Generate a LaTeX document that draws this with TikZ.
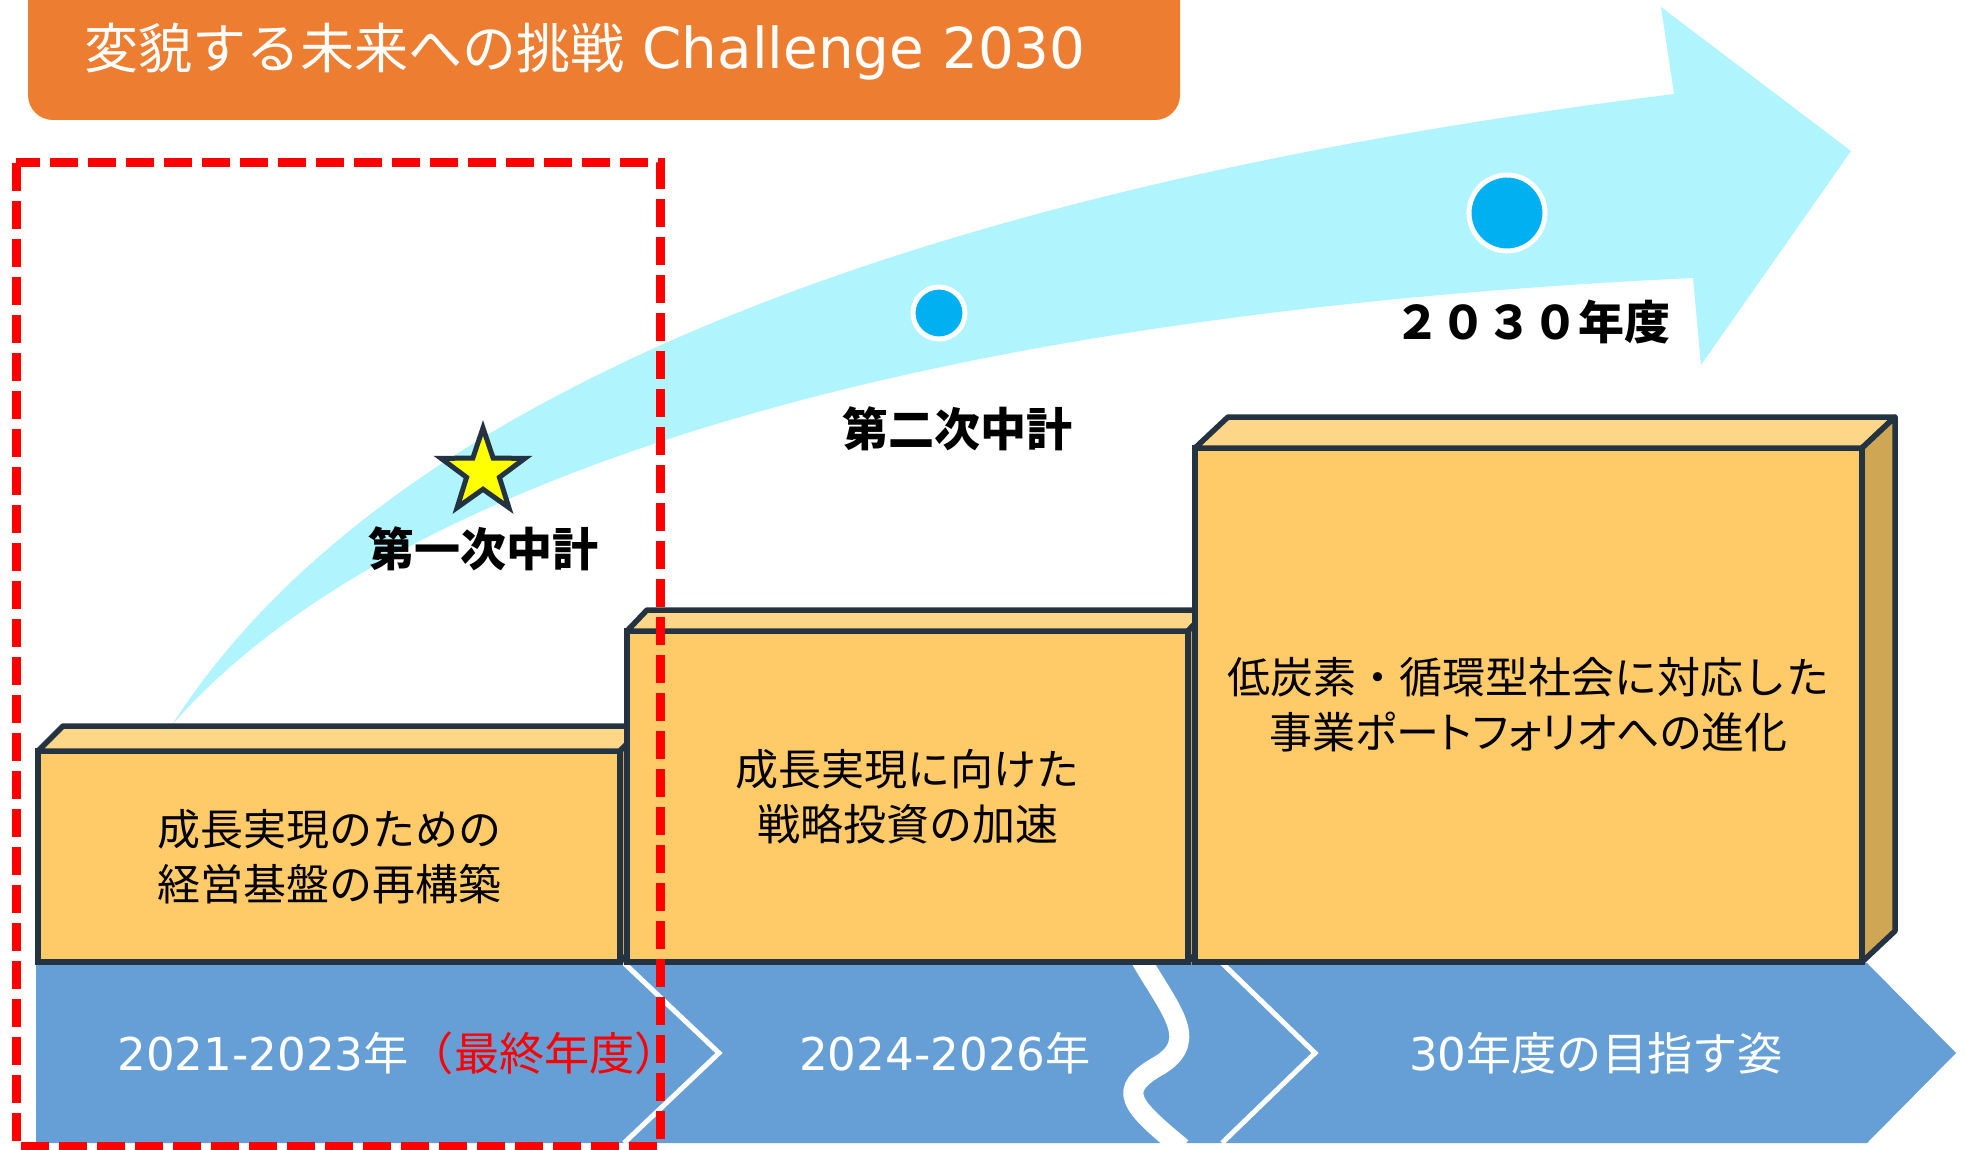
\documentclass[tikz,border=0pt]{standalone}
\usepackage{fontspec}
\usetikzlibrary{shapes.geometric}
\newfontfamily\jp{Noto Sans CJK JP}
\newfontfamily\jpp{Noto Sans CJK JP}[RawFeature=+palt]
\newfontfamily\lat{DejaVu Sans}
\definecolor{titleorange}{HTML}{ED7D31}
\definecolor{arrowcyan}{HTML}{B0F4FD}
\definecolor{boxfront}{HTML}{FFCB69}
\definecolor{boxtop}{HTML}{FED687}
\definecolor{boxside}{HTML}{CFA653}
\definecolor{boxline}{HTML}{243342}
\definecolor{bandblue}{HTML}{659FD5}
\definecolor{dotblue}{HTML}{00B0F0}
\definecolor{starfill}{HTML}{FFFF00}
\definecolor{markred}{HTML}{FF0000}
\begin{document}
\begin{tikzpicture}[x=0.5pt,y=-0.5pt,
  front/.style={draw=boxline, line width=2.75pt, fill=boxfront, rectangle, inner sep=0pt, outer sep=0pt, align=center, font=\jp\fontsize{21.5pt}{27.5pt}\selectfont, text=black},
  topface/.style={draw=boxline, line width=2.75pt, fill=boxtop, line join=round},
  sideface/.style={draw=boxline, line width=2.75pt, fill=boxside, line join=round},
  bandtext/.style={text=white, font=\fontsize{22.6pt}{27pt}\selectfont, inner sep=0pt},
  milestone/.style={font=\jp\bfseries\fontsize{23pt}{27pt}\selectfont, text=black, inner sep=0pt},
  dot/.style={circle, fill=dotblue, draw=white, line width=2.5pt, inner sep=0pt, outer sep=0pt},
  sepline/.style={draw=white, line width=2.5pt, line join=miter},
]
\useasboundingbox (0,0) rectangle (1966,1150);
\fill[white] (0,0) rectangle (1966,1150);

% title banner
\fill[titleorange, rounded corners=12.5pt] (28,-40) rectangle (1180,120);
\node[anchor=west, text=white, inner sep=0pt, font=\fontsize{27pt}{32pt}\selectfont] (title) at (84,52) {{\jp 変貌する未来への挑戦}{\lat\fontsize{28.2pt}{32pt}\selectfont\ Challenge 2030}};

% big curved arrow
\fill[arrowcyan] (172,725) .. controls (380,400) and (900,190) .. (1674,94)
  -- (1661,7) -- (1851,151) -- (1701,365) -- (1693,278)
  .. controls (800,320) and (350,520) .. (172,725) -- cycle;

% milestones
\node[dot, minimum size=26pt] (d1) at (939,313) {};
\node[dot, minimum size=38pt] (d2) at (1507,213) {};
\node[star, star points=5, star point ratio=2.55, minimum size=44pt, inner sep=0pt, outer sep=0pt, fill=starfill, draw=boxline, line width=2.5pt] (st) at (483,472) {};
\node[milestone] (m1) at (483,549) {第一次中計};
\node[milestone] (m2) at (957,429) {第二次中計};
\node[milestone] (m3) at (1532,322) {２０３０年度};

% timeline band
\fill[bandblue] (36,963) -- (1867,963) -- (1956,1053) -- (1867,1143) -- (36,1143) -- cycle;
\draw[sepline] (624,963) -- (719,1053) -- (624,1143);
\draw[sepline] (1222,963) -- (1315,1053) -- (1222,1143);
\draw[white, line width=10pt] (1140,958) .. controls (1170,1010) and (1200,1040) .. (1160,1065)
  .. controls (1115,1090) and (1130,1105) .. (1182,1148);
\node[bandtext, anchor=west] (t1) at (117,1053) {{\lat 2021-2023}{\jp 年}{\jp\color{markred}（最終年度）}};
\node[bandtext] (t2) at (945,1053) {{\lat 2024-2026}{\jp 年}};
\node[bandtext] (t3) at (1596,1053) {{\lat 30}{\jp 年度の目指す姿}};

% box 1
\node[front, minimum width=291pt, minimum height=105.5pt] (b1) at (329,856.5) {成長実現のための\\経営基盤の再構築};
\path[topface] (b1.north west) -- ++(25,-25) -- ([shift={(25,-25)}]b1.north east) -- (b1.north east) -- cycle;
\path[sideface] (b1.north east) -- ++(25,-25) -- ([shift={(25,-25)}]b1.south east) -- (b1.south east) -- cycle;

% box 2
\node[front, minimum width=280.5pt, minimum height=165.5pt] (b2) at (907.5,796.5) {成長実現に向けた\\戦略投資の加速};
\path[topface] (b2.north west) -- ++(20,-21) -- ([shift={(20,-21)}]b2.north east) -- (b2.north east) -- cycle;
\path[sideface] (b2.north east) -- ++(20,-21) -- ([shift={(20,-21)}]b2.south east) -- (b2.south east) -- cycle;

% box 3
\node[front, minimum width=333.5pt, minimum height=257pt] (b3) at (1528.5,705) {低炭素・循環型社会に対応した\\{\jpp 事業ポートフォリオへの進化}};
\path[topface] (b3.north west) -- ++(33,-31) -- ([shift={(33,-31)}]b3.north east) -- (b3.north east) -- cycle;
\path[sideface] (b3.north east) -- ++(33,-31) -- ([shift={(33,-31)}]b3.south east) -- (b3.south east) -- cycle;

% red dashed frame
\draw[markred, line width=4.5pt, dash pattern=on 14pt off 5pt] (16,163) rectangle (660,1146);
\end{tikzpicture}
\end{document}
